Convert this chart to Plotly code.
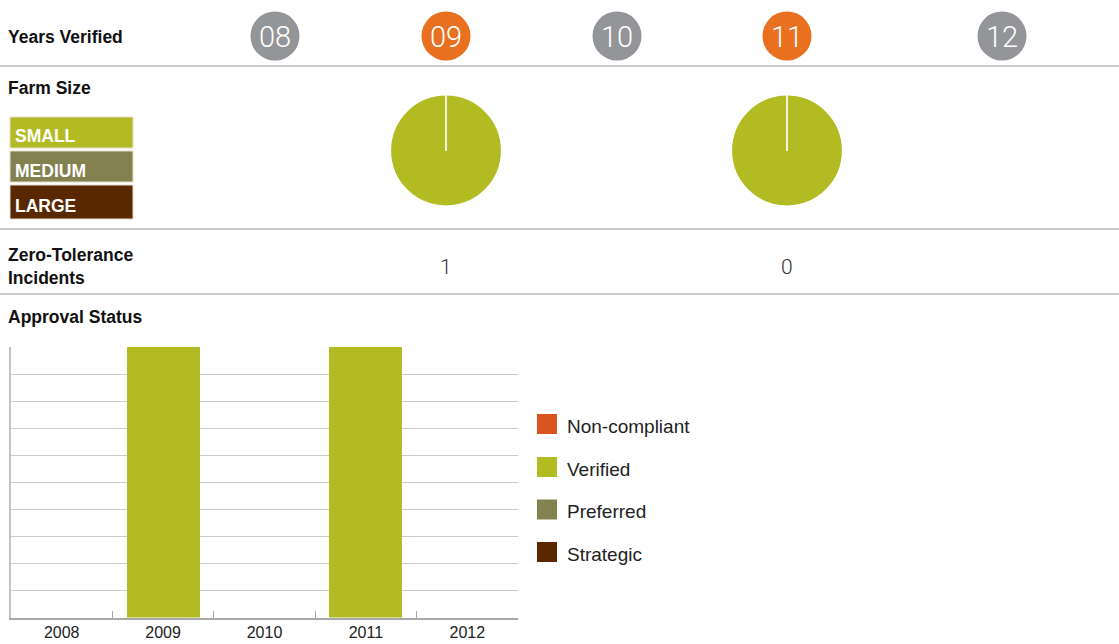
import plotly.graph_objects as go

# ---- data -------------------------------------------------------------
years = ["2008", "2009", "2010", "2011", "2012"]
year_badges = ["08", "09", "10", "11", "12"]
verified_year = [False, True, False, True, False]

farm_sizes = ["SMALL", "MEDIUM", "LARGE"]
farm_small = [0, 1, 0, 1, 0]
farm_medium = [0, 0, 0, 0, 0]
farm_large = [0, 0, 0, 0, 0]

incidents = [None, 1, None, 0, None]

status_names = ["Non-compliant", "Verified", "Preferred", "Strategic"]
non_compliant = [0, 0, 0, 0, 0]
verified = [0, 100, 0, 100, 0]
preferred = [0, 0, 0, 0, 0]
strategic = [0, 0, 0, 0, 0]

# ---- styling ----------------------------------------------------------
W, H = 1119, 644
FONT = "Liberation Sans, Arial, Helvetica, sans-serif"
LIGHT = "Roboto, Lato, Liberation Sans, sans-serif"
GREEN = "#b2bc22"
OLIVE = "#848150"
BROWN = "#5a2800"
ORANGE_RED = "#dc5520"
BADGE_ON = "#e8701f"
BADGE_OFF = "#939598"
RULE = "#b4b4b4"

size_colors = [GREEN, OLIVE, BROWN]
status_colors = [ORANGE_RED, GREEN, OLIVE, BROWN]
col_x = [275, 446, 617, 787, 1002]  # column centres in pixels


def px(x):
    return x / W


def py(y):
    return 1 - y / H


fig = go.Figure()
shapes = []
annotations = []

# ---- approval status stacked bars --------------------------------------
for name, vals, color in zip(status_names,
                             [non_compliant, verified, preferred, strategic],
                             status_colors):
    fig.add_trace(go.Bar(x=years, y=vals, name=name, marker_color=color,
                         marker_line_width=0, showlegend=False))

# ---- farm size pies ----------------------------------------------------
R = 55.5
for i, yr in enumerate(years):
    vals = [farm_small[i], farm_medium[i], farm_large[i]]
    if sum(vals) == 0:
        continue
    cx, cy = col_x[i], 150.5
    fig.add_trace(go.Pie(
        labels=farm_sizes, values=vals, sort=False, direction="clockwise",
        rotation=0, marker=dict(colors=size_colors, line=dict(color="white", width=1.2)),
        textinfo="none", hoverinfo="label+value", showlegend=False,
        domain=dict(x=[px(cx - R), px(cx + R)], y=[py(cy + R), py(cy - R)]),
    ))

# ---- section rules -----------------------------------------------------
for yline in [66, 229, 294]:
    shapes.append(dict(type="line", xref="paper", yref="paper",
                       x0=0, x1=1, y0=py(yline), y1=py(yline),
                       line=dict(color=RULE, width=1.3)))

# ---- row headings ------------------------------------------------------
def heading(text, x, y):
    annotations.append(dict(text=text, x=px(x), y=py(y), xref="paper", yref="paper",
                            xanchor="left", yanchor="middle", showarrow=False, align="left",
                            font=dict(family=FONT, size=17.5, color="#111", weight="bold")))


heading("Years Verified", 6, 37)
heading("Farm Size", 6, 88)
heading("Zero-Tolerance<br>Incidents", 6, 266)
heading("Approval Status", 6, 317)

# ---- year badges -------------------------------------------------------
RB = 24.5
for i, lab in enumerate(year_badges):
    cx, cy = col_x[i], 36
    shapes.append(dict(type="circle", xref="paper", yref="paper",
                       x0=px(cx - RB), x1=px(cx + RB), y0=py(cy + RB), y1=py(cy - RB),
                       fillcolor=BADGE_ON if verified_year[i] else BADGE_OFF,
                       line=dict(width=0)))
    annotations.append(dict(text=lab, x=px(cx), y=py(cy + 1), xref="paper", yref="paper",
                            xanchor="center", yanchor="middle", showarrow=False,
                            font=dict(family=LIGHT, size=29, color="white", weight=300)))

# ---- farm size key -----------------------------------------------------
key_rows = [(117, 148), (151, 182), (185, 219)]
for (y0, y1), lab, color in zip(key_rows, farm_sizes, size_colors):
    shapes.append(dict(type="rect", xref="paper", yref="paper",
                       x0=px(10), x1=px(133), y0=py(y1), y1=py(y0),
                       fillcolor=color, line=dict(color="#e4e0c8", width=1)))
    annotations.append(dict(text=lab, x=px(13), y=py((y0 + y1) / 2 + 4), xref="paper",
                            yref="paper", xanchor="left", yanchor="middle", showarrow=False,
                            font=dict(family=FONT, size=17.5, color="white", weight="bold")))

# ---- incident counts ---------------------------------------------------
for i, v in enumerate(incidents):
    if v is None:
        continue
    annotations.append(dict(text=str(v), x=px(col_x[i]), y=py(267), xref="paper",
                            yref="paper", xanchor="center", yanchor="middle", showarrow=False,
                            font=dict(family=LIGHT, size=21, color="#333", weight=300)))

# ---- approval status key -----------------------------------------------
key_y = [424, 467, 509.5, 552]
for yk, name, color in zip(key_y, status_names, status_colors):
    shapes.append(dict(type="rect", xref="paper", yref="paper",
                       x0=px(537), x1=px(557), y0=py(yk + 10), y1=py(yk - 10),
                       fillcolor=color, line=dict(width=0)))
    annotations.append(dict(text=name, x=px(565), y=py(yk + 2), xref="paper", yref="paper",
                            xanchor="left", yanchor="middle", showarrow=False,
                            font=dict(family=FONT, size=19, color="#222")))

fig.update_layout(
    width=W, height=H,
    margin=dict(l=0, r=0, t=0, b=0),
    paper_bgcolor="white", plot_bgcolor="white",
    barmode="stack", bargap=0.28,
    shapes=shapes, annotations=annotations,
    xaxis=dict(domain=[px(11), px(518)], type="category", showgrid=False,
               showline=True, linecolor="#a8a8a8", linewidth=1.5,
               ticks="inside", tickson="boundaries", ticklen=7, tickcolor="#a8a8a8",
               tickfont=dict(family=FONT, size=16, color="#222"), fixedrange=True),
    yaxis=dict(domain=[py(617.5), py(347)], range=[0, 100], dtick=10,
               showticklabels=False, showgrid=True, gridcolor="#cbcbcb", gridwidth=1.2,
               zeroline=False, showline=True, linecolor="#c4c4c4", linewidth=1.5,
               ticks="", fixedrange=True),
    showlegend=False,
)

fig.write_html("out.html")
